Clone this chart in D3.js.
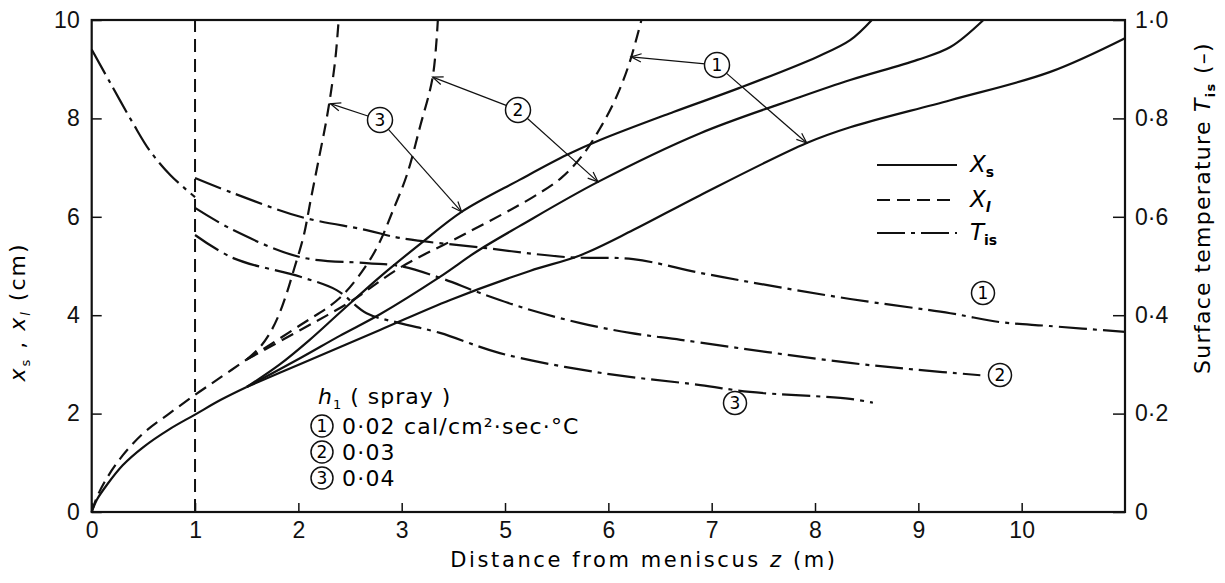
<!DOCTYPE html>
<html>
<head>
<meta charset="utf-8">
<script src="https://cdn.jsdelivr.net/npm/d3@7"></script>
<style>
  body { margin: 0; background: #fff; }
  svg { font-family: "DejaVu Sans", sans-serif; }
  .tick text { font-size: 23px; fill: #111; }
</style>
</head>
<body>
<div id="chart"></div>
<script>
// x positions are in axis divisions (the printed scale skips "4")
const xTickValues = [0, 1, 2, 3, 4, 5, 6, 7, 8, 9];
const xTickLabels = ["0", "1", "2", "3", "5", "6", "7", "8", "9", "10"];
const yTickValues = [0, 2, 4, 6, 8, 10];
const tTickValues = [0, 0.2, 0.4, 0.6, 0.8, 1.0];
const tTickLabels = ["0", "0·2", "0·4", "0·6", "0·8", "1·0"];

// solid: x_s (cm)
const xsStem = [[0,0],[0.05,0.25],[0.15,0.56],[0.3,0.95],[0.5,1.32],[0.75,1.68],[1.0,1.98],[1.25,2.28],[1.5,2.54]];
const xs1 = [[1.5,2.54],[2.02,3.01],[2.79,3.70],[3.47,4.31],[4.24,4.90],[4.73,5.22],[5.24,5.73],[5.89,6.44],[6.92,7.50],[7.34,7.82],[8.31,8.37],[9.27,8.94],[10.0,9.63]];
const xs2 = [[1.5,2.54],[2.02,3.13],[2.40,3.58],[2.79,4.02],[3.37,4.78],[3.73,5.30],[4.14,5.81],[4.90,6.71],[5.89,7.70],[6.85,8.43],[7.34,8.78],[7.99,9.19],[8.31,9.45],[8.63,10]];
const xs3 = [[1.5,2.54],[1.82,3.0],[2.11,3.5],[2.40,4.05],[2.79,4.78],[3.18,5.45],[3.58,6.10],[4.14,6.75],[4.60,7.26],[4.92,7.56],[5.63,8.13],[6.27,8.62],[7.02,9.25],[7.34,9.59],[7.55,10]];

// dashed: x_l (cm)
const xlStem = [[0,0],[0.05,0.3],[0.15,0.7],[0.3,1.15],[0.5,1.6],[0.75,2.0],[1.0,2.38],[1.25,2.74],[1.5,3.1]];
const xl1 = [[1.5,3.1],[2.02,3.70],[2.50,4.27],[2.98,4.96],[3.63,5.67],[4.27,6.40],[4.55,6.80],[4.75,7.25],[4.92,7.80],[5.07,8.40],[5.20,9.10],[5.32,10]];
const xl2 = [[1.5,3.1],[2.02,3.80],[2.40,4.35],[2.66,5.02],[2.79,5.50],[2.91,6.10],[3.05,6.85],[3.18,7.85],[3.30,8.84],[3.35,10]];
const xl3 = [[1.5,3.1],[1.62,3.33],[1.72,3.62],[1.80,3.95],[1.88,4.40],[1.96,4.95],[2.05,5.60],[2.12,6.35],[2.20,7.20],[2.27,7.95],[2.32,8.60],[2.36,9.25],[2.39,10]];

// dash-dot: T_is (-)
const t0 = [[0,0.94],[0.18,0.872],[0.4,0.79],[0.56,0.735],[0.76,0.685],[1.0,0.64]];
const t1 = [[1.0,0.679],[1.37,0.648],[2.02,0.600],[2.66,0.573],[2.98,0.557],[3.79,0.537],[4.60,0.518],[5.24,0.514],[5.89,0.486],[6.54,0.461],[7.34,0.433],[8.31,0.404],[8.79,0.386],[9.27,0.378],[10.0,0.366]];
const t2 = [[1.0,0.618],[1.37,0.573],[2.02,0.518],[2.66,0.506],[2.98,0.500],[3.37,0.476],[3.76,0.445],[4.24,0.411],[4.73,0.384],[5.21,0.364],[5.70,0.350],[6.54,0.325],[7.34,0.303],[7.99,0.289],[8.60,0.278]];
const t3 = [[1.0,0.563],[1.37,0.516],[2.02,0.478],[2.37,0.451],[2.66,0.404],[2.98,0.384],[3.37,0.364],[3.95,0.323],[4.92,0.283],[5.89,0.258],[6.37,0.244],[7.34,0.230],[7.56,0.222]];

const hValues = ["0·02 cal/cm²·sec·°C", "0·03", "0·04"];

const width = 1225, height = 583;
const margin = {top: 20, right: 100, bottom: 71, left: 91.7};

const svg = d3.select("#chart").append("svg")
  .attr("width", width)
  .attr("height", height);

const x = d3.scaleLinear().domain([0, 10]).range([margin.left, width - margin.right]);
const y = d3.scaleLinear().domain([0, 10]).range([height - margin.bottom, margin.top]);
const yT = d3.scaleLinear().domain([0, 1]).range([height - margin.bottom, margin.top]);

// axes, ticks pointing inward
svg.append("g")
  .attr("transform", `translate(0,${y(0)})`)
  .call(d3.axisBottom(x).tickValues(xTickValues).tickFormat((d, i) => xTickLabels[i])
    .tickSizeInner(-9).tickSizeOuter(0).tickPadding(10))
  .call(g => g.select(".domain").remove());

svg.append("g")
  .attr("transform", `translate(${x(0)},0)`)
  .call(d3.axisLeft(y).tickValues(yTickValues).tickSizeInner(-10).tickSizeOuter(0).tickPadding(12))
  .call(g => g.select(".domain").remove());

svg.append("g")
  .attr("transform", `translate(${x(10)},0)`)
  .call(d3.axisRight(yT).tickValues(tTickValues).tickFormat((d, i) => tTickLabels[i])
    .tickSizeInner(-12).tickSizeOuter(0).tickPadding(10))
  .call(g => g.select(".domain").remove());

svg.selectAll(".tick line").attr("stroke", "#111").attr("stroke-width", 1.5);

svg.append("rect")
  .attr("x", x(0)).attr("y", y(10))
  .attr("width", x(10) - x(0)).attr("height", y(0) - y(10))
  .attr("fill", "none").attr("stroke", "#111").attr("stroke-width", 2.2);

// vertical dashed line at z = 1
svg.append("line")
  .attr("x1", x(1)).attr("x2", x(1)).attr("y1", y(0)).attr("y2", y(10))
  .attr("stroke", "#111").attr("stroke-width", 2).attr("stroke-dasharray", "13,7");

const lineX = d3.line().x(d => x(d[0])).y(d => y(d[1])).curve(d3.curveCatmullRom.alpha(0.5));
const lineT = d3.line().x(d => x(d[0])).y(d => yT(d[1])).curve(d3.curveCatmullRom.alpha(0.5));

const dashSolid = null, dashDash = "13,7", dashDot = "28,6,4,6";

[xsStem, xs1, xs2, xs3].forEach(s => {
  svg.append("path").attr("d", lineX(s)).attr("fill", "none")
    .attr("stroke", "#111").attr("stroke-width", 2.2);
});
[xlStem, xl1, xl2, xl3].forEach(s => {
  svg.append("path").attr("d", lineX(s)).attr("fill", "none")
    .attr("stroke", "#111").attr("stroke-width", 2.2).attr("stroke-dasharray", dashDash);
});
[t0, t1, t2, t3].forEach(s => {
  svg.append("path").attr("d", lineT(s)).attr("fill", "none")
    .attr("stroke", "#111").attr("stroke-width", 2.2).attr("stroke-dasharray", dashDot);
});

// circled number marker
function circled(cx, cy, n, r) {
  const g = svg.append("g");
  g.append("circle").attr("cx", cx).attr("cy", cy).attr("r", r || 11.5)
    .attr("fill", "#fff").attr("stroke", "#111").attr("stroke-width", 1.5);
  g.append("text").attr("x", cx).attr("y", cy).attr("dy", "0.36em")
    .attr("text-anchor", "middle").style("font-size", "17px").text(n);
}

// arrows from labels to curves
function arrow(x1, y1, x2, y2) {
  svg.append("line").attr("x1", x1).attr("y1", y1).attr("x2", x2).attr("y2", y2)
    .attr("stroke", "#111").attr("stroke-width", 1.2);
  const a = Math.atan2(y2 - y1, x2 - x1), L = 11, w = 0.38;
  svg.append("path")
    .attr("d", `M${x2 - L * Math.cos(a - w)},${y2 - L * Math.sin(a - w)}L${x2},${y2}L${x2 - L * Math.cos(a + w)},${y2 - L * Math.sin(a + w)}`)
    .attr("fill", "none").attr("stroke", "#111").attr("stroke-width", 1.2);
}

// label anchors, then arrow tips on the matching curves
const labelPos = [[717, 65], [518, 110], [380, 120]];
const tipXl = [[5.22, 9.25], [3.30, 8.84], [2.31, 8.3]];
const tipXs = [[6.92, 7.50], [4.90, 6.71], [3.58, 6.10]];
labelPos.forEach((p, i) => {
  const a = [x(tipXl[i][0]), y(tipXl[i][1])], b = [x(tipXs[i][0]), y(tipXs[i][1])];
  const d1 = Math.hypot(a[0] - p[0], a[1] - p[1]), d2 = Math.hypot(b[0] - p[0], b[1] - p[1]);
  arrow(p[0] + (a[0] - p[0]) * 12 / d1, p[1] + (a[1] - p[1]) * 12 / d1, a[0], a[1]);
  arrow(p[0] + (b[0] - p[0]) * 12 / d2, p[1] + (b[1] - p[1]) * 12 / d2, b[0], b[1]);
  circled(p[0], p[1], String(i + 1), 12.5);
});

// T_is curve labels
circled(983, 293, "1");
circled(1000, 375, "2");
circled(735, 403, "3");

// legend of line styles
const legendRows = [
  {dash: dashSolid, y: 165, main: "X", sub: "s"},
  {dash: dashDash, y: 200, main: "X", sub: "l"},
  {dash: dashDot, y: 233, main: "T", sub: "is"}
];
legendRows.forEach(r => {
  svg.append("line").attr("x1", 877).attr("x2", 957).attr("y1", r.y).attr("y2", r.y)
    .attr("stroke", "#111").attr("stroke-width", 2.2).attr("stroke-dasharray", r.dash);
  const t = svg.append("text").attr("x", 970).attr("y", r.y + 7).style("font-size", "23px");
  t.append("tspan").style("font-style", "italic").text(r.main);
  t.append("tspan").attr("dy", 5).style("font-size", "14px").style("font-weight", "bold")
    .style("font-style", r.sub === "l" ? "italic" : "normal").text(r.sub);
});

// h1 (spray) block
const hb = svg.append("text").attr("x", 318).attr("y", 404)
  .style("font-size", "22px").style("letter-spacing", "1px");
hb.append("tspan").style("font-style", "italic").text("h");
hb.append("tspan").attr("dy", 5).style("font-size", "13px").text("1");
hb.append("tspan").attr("dy", -5).text(" ( spray )");
hValues.forEach((v, i) => {
  const cy = 426 + i * 26;
  circled(322, cy, String(i + 1), 11);
  svg.append("text").attr("x", 342).attr("y", cy).attr("dy", "0.36em")
    .style("font-size", "22px").style("letter-spacing", "1.2px").text(v);
});

// axis titles
svg.append("text")
  .attr("x", 644).attr("y", 567)
  .attr("text-anchor", "middle").style("font-size", "21px").style("letter-spacing", "2.6px")
  .call(t => {
    t.append("tspan").text("Distance from meniscus ");
    t.append("tspan").style("font-style", "italic").text("z");
    t.append("tspan").text("  (m)");
  });

const yl = svg.append("text")
  .attr("transform", `translate(25,312) rotate(-90)`)
  .attr("text-anchor", "middle").style("font-size", "22px").style("letter-spacing", "2px");
yl.append("tspan").style("font-style", "italic").text("x");
yl.append("tspan").attr("dy", 5).style("font-size", "13px").text("s");
yl.append("tspan").attr("dy", -5).text(" ,  ");
yl.append("tspan").style("font-style", "italic").text("x");
yl.append("tspan").attr("dy", 5).style("font-size", "13px").style("font-style", "italic").text("l");
yl.append("tspan").attr("dy", -5).text("   (cm)");

const yr = svg.append("text")
  .attr("transform", `translate(1210,208) rotate(-90)`)
  .attr("text-anchor", "middle").style("font-size", "22px").style("letter-spacing", "1.3px");
yr.append("tspan").text("Surface temperature ");
yr.append("tspan").style("font-style", "italic").text("T");
yr.append("tspan").attr("dy", 5).style("font-size", "13px").style("font-weight", "bold").text("is");
yr.append("tspan").attr("dy", -5).text("  (–)");
</script>
</body>
</html>
